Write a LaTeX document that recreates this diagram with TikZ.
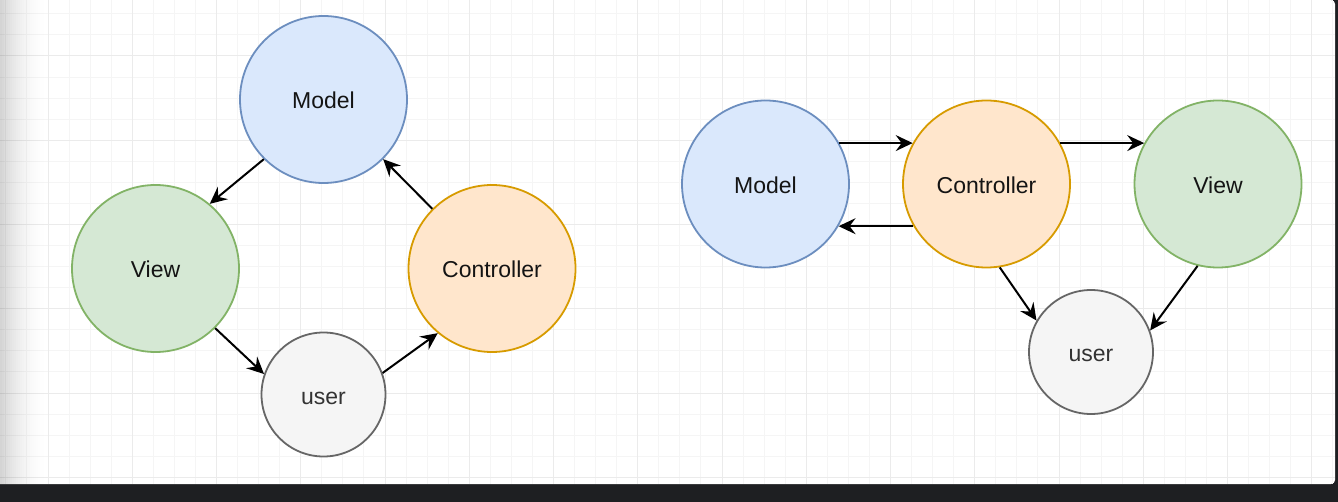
\documentclass[tikz,border=0pt]{standalone}
\usepackage{fontspec}
\setmainfont{Liberation Sans}
\usetikzlibrary{arrows.meta}
\definecolor{bluefill}{HTML}{DAE8FC}\definecolor{bluedraw}{HTML}{6C8EBF}
\definecolor{greenfill}{HTML}{D5E8D4}\definecolor{greendraw}{HTML}{82B366}
\definecolor{orangefill}{HTML}{FFE6CC}\definecolor{orangedraw}{HTML}{D79B00}
\definecolor{grayfill}{HTML}{F5F5F5}\definecolor{graydraw}{HTML}{666666}
\definecolor{usertext}{HTML}{333333}
\definecolor{darkbar}{HTML}{1E1F22}
\definecolor{gridminor}{HTML}{F5F5F5}
\definecolor{gridmajor}{HTML}{EBEBEB}
\tikzset{
  bubble/.style={circle, inner sep=0pt, line width=1.8pt, font=\fontsize{23}{27}\selectfont, text=black!92, text height=19pt, text depth=0pt},
  big/.style={bubble, minimum size=167pt},
  small/.style={bubble, minimum size=124pt},
  mblue/.style={fill=bluefill, draw=bluedraw},
  mgreen/.style={fill=greenfill, draw=greendraw},
  morange/.style={fill=orangefill, draw=orangedraw},
  mgray/.style={fill=grayfill, draw=graydraw, text=usertext},
  conn/.style={line width=2pt, -{Stealth[length=17pt, width=16pt, inset=6pt]}},
}
\begin{document}
\begin{tikzpicture}[x=1pt,y=-1pt]
\useasboundingbox (0,0) rectangle (1338,502);
% frame
\fill[darkbar] (0,0) rectangle (1338,502);
\fill[white, rounded corners=4pt] (-10,0) rectangle (1335,484);
% grid
\begin{scope}
\clip (-10,0) rectangle (1335,484);
\foreach \i in {-3,...,61} {
  \draw[gridminor, line width=1pt] ({48+\i*21.0625},0) -- ({48+\i*21.0625},484);
}
\foreach \j in {-3,...,21} {
  \draw[gridminor, line width=1pt] (0,{56+\j*21.0625}) -- (1335,{56+\j*21.0625});
}
\foreach \i in {0,...,15} {
  \draw[gridmajor, line width=1pt] ({48+\i*84.25},0) -- ({48+\i*84.25},484);
}
\foreach \j in {0,...,5} {
  \draw[gridmajor, line width=1pt] (0,{56+\j*84.25}) -- (1335,{56+\j*84.25});
}
% left shadow
\foreach \k in {0,...,23} {
  \fill[black, fill opacity={0.17*(1-\k/24)*(1-\k/24)}] ({2*\k},0) rectangle ({2*\k+2},484);
}
\end{scope}
% left diagram
\node[big, mblue] (M1) at (323.5,99.5) {Model};
\node[big, mgreen] (V1) at (155.5,268.5) {View};
\node[big, morange] (C1) at (492,268.5) {Controller};
\node[small, mgray] (U1) at (323.5,394.5) {user};
\draw[conn] (M1.225) -- (V1.50);
\draw[conn] (C1.135) -- (M1.-45);
\draw[conn] (V1.-45) -- (U1.161);
\draw[conn] (U1.20) -- (C1.230);
% right diagram
\node[big, mblue] (M2) at (765.5,184) {Model};
\node[big, morange] (C2) at (986.5,184) {Controller};
\node[big, mgreen] (V2) at (1218,184) {View};
\node[small, mgray] (U2) at (1091,352) {user};
\draw[conn] (M2.29) -- (C2.151);
\draw[conn] (C2.210) -- (M2.-30);
\draw[conn] (C2.29) -- (V2.151);
\draw[conn] (C2.-81) -- (U2.150);
\draw[conn] (V2.256) -- (U2.20);
\end{tikzpicture}
\end{document}
